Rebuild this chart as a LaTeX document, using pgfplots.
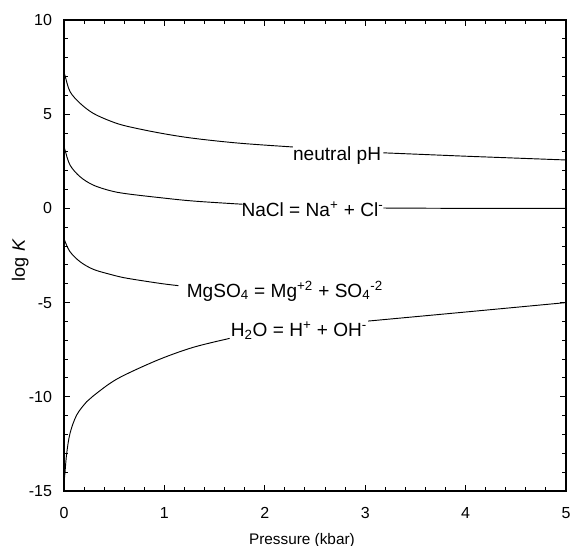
\documentclass[border=0pt]{standalone}
\usepackage{fontspec}
\setmainfont{Liberation Sans}
\usepackage{pgfplots}
\pgfplotsset{compat=1.18}
\begin{document}
\fontsize{11.3}{13.5}\selectfont
\begin{tikzpicture}
\begin{axis}[
  scale only axis,
  width=376.5pt, height=353.25pt,
  xmin=0, xmax=5, ymin=-15, ymax=10,
  xtick={0,1,2,3,4,5}, ytick={-15,-10,-5,0,5,10},
  minor x tick num=4, minor y tick num=4,
  major tick length=4.5pt, minor tick length=3pt,
  tick style={black, line width=0.7pt},
  axis line style={line width=0.8pt},
  /pgf/number format/assume math mode=true,
  tick label style={font=\fontsize{12}{14}\selectfont},
  xticklabel style={yshift=-8.5pt},
  yticklabel style={xshift=-5pt},
  xlabel={Pressure (kbar)},
  ylabel={log\hspace{0.35em}\textit{K}},
  xlabel style={at={(axis description cs:0.474,-0.078)}, anchor=north, font=\fontsize{11.5}{13.5}\selectfont},
  ylabel style={at={(axis description cs:-0.087,0.49)}, anchor=center, font=\fontsize{13.5}{16}\selectfont},
  clip=false,
]
% neutral pH
\addplot[black, line width=0.7pt, smooth, tension=0.55] coordinates {
 (0,7.2) (0.01,7.05) (0.06,6.2) (0.16,5.58) (0.29,5.05) (0.46,4.64) (0.62,4.37)
 (0.956,4.0) (1.29,3.72) (1.75,3.46) (2.28,3.26)};
\addplot[black, line width=0.7pt] coordinates {(3.18,2.95) (4,2.77) (5,2.57)};
% NaCl
\addplot[black, line width=0.7pt, smooth, tension=0.55] coordinates {
 (0,3.3) (0.01,3.1) (0.06,2.3) (0.16,1.68) (0.29,1.24) (0.46,0.94) (0.62,0.78)
 (0.956,0.57) (1.29,0.39) (1.78,0.22)};
\addplot[black, line width=0.7pt] coordinates {(3.18,0.02) (4,0.0) (5,0.0)};
% MgSO4
\addplot[black, line width=0.7pt, smooth, tension=0.55] coordinates {
 (0,-1.6) (0.01,-1.75) (0.06,-2.3) (0.16,-2.83) (0.29,-3.23) (0.46,-3.50) (0.62,-3.70)
 (0.956,-3.98) (1.14,-4.1)};
% H2O
\addplot[black, line width=0.7pt, smooth, tension=0.55] coordinates {
 (0,-14.6) (0.01,-14.0) (0.027,-13.0) (0.06,-11.94) (0.126,-10.97) (0.226,-10.26)
 (0.29,-9.96) (0.46,-9.28) (0.62,-8.8) (0.956,-8.0) (1.29,-7.37) (1.65,-6.9)};
\addplot[black, line width=0.7pt] coordinates {(3.03,-5.98) (4,-5.5) (5,-5.0)};
\begin{scope}[every node/.style={inner sep=0pt, font=\fontsize{14.3}{17}\selectfont}]
\node at (axis cs:2.72,2.81) {neutral pH};
\node at (axis cs:2.475,-0.06) {NaCl = Na\textsuperscript{+} + Cl\textsuperscript{-}};
\node at (axis cs:2.20,-4.38) {MgSO\textsubscript{4} = Mg\textsuperscript{+2} + SO\textsubscript{4}\textsuperscript{-2}};
\node at (axis cs:2.34,-6.5) {H\textsubscript{2}O = H\textsuperscript{+} + OH\textsuperscript{-}};
\end{scope}
\end{axis}
\pgfresetboundingbox
\path ([shift={(-48pt,-41.25pt)}]current axis.south west) rectangle ([shift={(3.75pt,15pt)}]current axis.north east);
\end{tikzpicture}
\end{document}
